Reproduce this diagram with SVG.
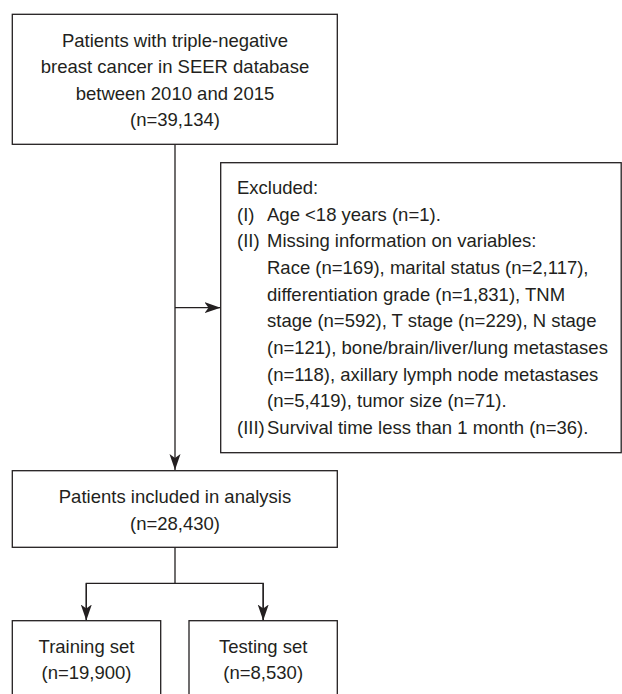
<svg xmlns="http://www.w3.org/2000/svg" width="622" height="694" viewBox="0 0 622 694">
<style>
.box{fill:#fff;stroke:#231f20;stroke-width:1.3}
.ln{fill:none;stroke:#231f20;stroke-width:1.3}
text{font-family:"Liberation Sans",Arial,Helvetica,sans-serif;font-size:18.5px;fill:#231f20}
.c{text-anchor:middle}
</style>
<defs>
<marker id="ah" markerUnits="userSpaceOnUse" markerWidth="16" markerHeight="12" refX="16" refY="6" orient="auto">
<path d="M0,0.5 L16,6 L0,11.5 L4,6 Z" fill="#231f20"/>
</marker>
</defs>
<rect width="622" height="694" fill="#fff"/>
<g id="connectors">
<line class="ln" x1="175" y1="144.3" x2="175" y2="470" marker-end="url(#ah)"/>
<line class="ln" x1="175" y1="307.7" x2="220.5" y2="307.7" marker-end="url(#ah)"/>
<polyline class="ln" points="175,547.3 175,583.3"/>
<polyline class="ln" points="86.3,620 86.3,583.3 263.2,583.3 263.2,620"/>
<line class="ln" x1="86.3" y1="583.3" x2="86.3" y2="620.5" marker-end="url(#ah)"/>
<line class="ln" x1="263.2" y1="583.3" x2="263.2" y2="620.5" marker-end="url(#ah)"/>
</g>
<g id="source">
<rect class="box" x="12.3" y="14.3" width="325" height="130"/>
<text class="c" x="175" y="46.5">Patients with triple-negative</text>
<text class="c" x="175" y="73">breast cancer in SEER database</text>
<text class="c" x="175" y="99.5">between 2010 and 2015</text>
<text class="c" x="175" y="126">(n=39,134)</text>
</g>
<g id="excluded">
<rect class="box" x="220.7" y="162.7" width="400.5" height="290"/>
<text x="237" y="194">Excluded:</text>
<text x="237" y="220.6">(I)</text>
<text x="267" y="220.6">Age &lt;18 years (n=1).</text>
<text x="237" y="247.3">(II)</text>
<text x="267" y="247.3">Missing information on variables:</text>
<text x="267" y="273.9">Race (n=169), marital status (n=2,117),</text>
<text x="267" y="300.6">differentiation grade (n=1,831), TNM</text>
<text x="267" y="327.2">stage (n=592), T stage (n=229), N stage</text>
<text x="267" y="353.9">(n=121), bone/brain/liver/lung metastases</text>
<text x="267" y="380.5">(n=118), axillary lymph node metastases</text>
<text x="267" y="407.2">(n=5,419), tumor size (n=71).</text>
<text x="237" y="433.8">(III)</text>
<text x="267" y="433.8">Survival time less than 1 month (n=36).</text>
</g>
<g id="included">
<rect class="box" x="12.3" y="470.7" width="325" height="76.6"/>
<text class="c" x="175" y="503">Patients included in analysis</text>
<text class="c" x="175" y="529.5">(n=28,430)</text>
</g>
<g id="training">
<rect class="box" x="12.3" y="620.7" width="148.4" height="90"/>
<text class="c" x="86.5" y="652.7">Training set</text>
<text class="c" x="86.5" y="679">(n=19,900)</text>
</g>
<g id="testing">
<rect class="box" x="189" y="620.7" width="148.3" height="90"/>
<text class="c" x="263.2" y="652.7">Testing set</text>
<text class="c" x="263.2" y="679">(n=8,530)</text>
</g>
</svg>
